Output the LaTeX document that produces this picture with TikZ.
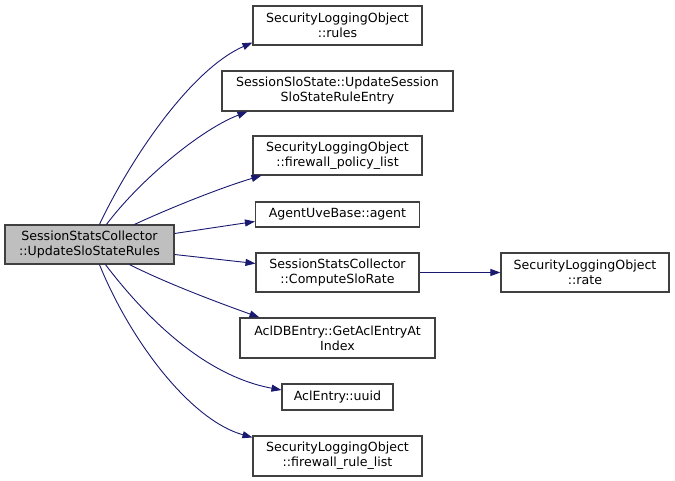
\documentclass[tikz,border=0pt]{standalone}
\usepackage{fontspec}
\setmainfont{DejaVu Sans}
\usetikzlibrary{arrows.meta,calc}
\definecolor{edgeblue}{HTML}{191970}
\definecolor{boxline}{HTML}{404040}
\definecolor{mainfill}{HTML}{BFBFBF}
\begin{document}
\begin{tikzpicture}[x=1pt,y=-1pt,
  fn/.style={draw=boxline,line width=1.1pt,fill=white,inner sep=0pt,align=center,
    font=\fontsize{12.6}{15}\selectfont},
  call/.style={draw=edgeblue,line width=0.9pt,-{Triangle[length=10pt,width=7pt]}}]
\useasboundingbox (0,0) rectangle (675,481);
\node[fn,fill=mainfill,minimum width=169pt,minimum height=39pt] (main) at (89.5,244.5) {SessionStatsCollector\\::UpdateSloStateRules};
\node[fn,minimum width=169pt,minimum height=39pt] (rules) at (337.5,25.5) {SecurityLoggingObject\\::rules};
\node[fn,minimum width=231pt,minimum height=40pt] (upd) at (337.5,91) {SessionSloState::UpdateSession\\SloStateRuleEntry};
\node[fn,minimum width=169pt,minimum height=39pt] (fpl) at (337.5,155.5) {SecurityLoggingObject\\::firewall\_policy\_list};
\node[fn,minimum width=164pt,minimum height=25pt] (agent) at (337.5,214.5) {AgentUveBase::agent};
\node[fn,minimum width=163pt,minimum height=39pt] (csr) at (337.5,272.5) {SessionStatsCollector\\::ComputeSloRate};
\node[fn,minimum width=195pt,minimum height=40pt] (acl) at (337.5,338) {AclDBEntry::GetAclEntryAt\\Index};
\node[fn,minimum width=111pt,minimum height=26pt] (uuid) at (337.5,397) {AclEntry::uuid};
\node[fn,minimum width=169pt,minimum height=40pt] (frl) at (337.5,456) {SecurityLoggingObject\\::firewall\_rule\_list};
\node[fn,minimum width=168pt,minimum height=39pt] (rate) at (585,272.5) {SecurityLoggingObject\\::rate};

\draw[call] ($(main.north west)+(95,0)$) .. controls (130,160) and (190,70) .. ($(rules.west)+(0,17)$);
\draw[call] ($(main.north west)+(102,0)$) .. controls (140,180) and (200,130) .. ($(upd.south west)+(26,0)$);
\draw[call] ($(main.north west)+(130,0)$) .. controls (170,208) and (220,188) .. ($(fpl.south west)+(9,0)$);
\draw[call] ($(main.east)+(0,-11)$) -- ($(agent.west)+(0,7)$);
\draw[call] ($(main.east)+(0,10)$) -- ($(csr.west)+(0,-9)$);
\draw[call] ($(main.south west)+(125,0)$) .. controls (170,285) and (225,305) .. ($(acl.north west)+(20,0)$);
\draw[call] ($(main.south west)+(101,0)$) .. controls (140,310) and (200,375) .. ($(uuid.west)+(0,-7)$);
\draw[call] ($(main.south west)+(95,0)$) .. controls (130,340) and (190,420) .. ($(frl.north west)+(0,2)$);
\draw[call] (csr.east) -- (rate.west);
\end{tikzpicture}
\end{document}
